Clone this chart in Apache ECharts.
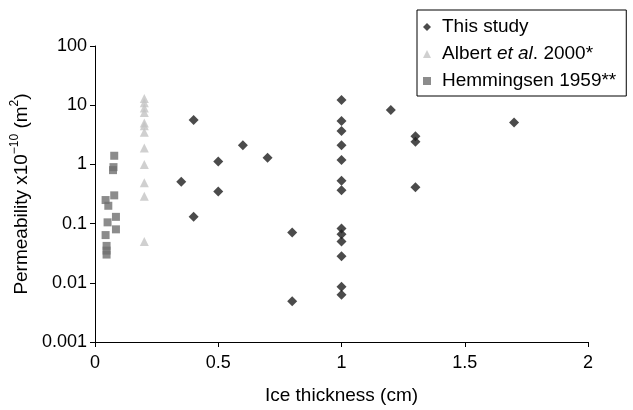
<!DOCTYPE html>
<html>
<head>
<meta charset="utf-8">
<script src="https://cdn.jsdelivr.net/npm/echarts@6/dist/echarts.min.js"></script>
<style>html,body{margin:0;padding:0;background:#fff}#c{width:633px;height:410px}</style>
</head>
<body>
<div id="c"></div>
<script>
// This study
const studyX = [0.35, 0.4, 0.4, 0.5, 0.5, 0.6, 0.7, 0.8, 0.8,
  1, 1, 1, 1, 1, 1, 1, 1, 1, 1, 1, 1, 1,
  1.2, 1.3, 1.3, 1.3, 1.7];
const studyY = [0.51, 5.6, 0.13, 1.12, 0.35, 2.1, 1.3, 0.071, 0.0049,
  12.2, 5.4, 3.66, 2.1, 1.19, 0.53, 0.365, 0.083, 0.066, 0.05, 0.028, 0.0086, 0.0063,
  8.3, 3.0, 2.42, 0.41, 5.1];
// Albert et al. 2000*
const albertX = [0.2, 0.2, 0.2, 0.2, 0.2, 0.2, 0.2, 0.2, 0.2, 0.2, 0.2, 0.2];
const albertY = [13, 11, 9, 7.5, 5, 4.5, 3.5, 1.9, 1.0, 0.49, 0.29, 0.05];
// Hemmingsen 1959**
const hemX = [0.078, 0.075, 0.073, 0.078, 0.043, 0.054, 0.085, 0.051, 0.085, 0.043, 0.047, 0.047, 0.047];
const hemY = [1.4, 0.9, 0.8, 0.3, 0.25, 0.2, 0.13, 0.105, 0.08, 0.064, 0.042, 0.035, 0.03];
const xTicks = [0, 0.5, 1, 1.5, 2];
const yTicks = [0.001, 0.01, 0.1, 1, 10, 100];
const seriesNames = ['This study', 'Albert et al. 2000*', 'Hemmingsen 1959**'];

const zip = (xs, ys) => xs.map((x, i) => [x, ys[i]]);
const FONT = 'Liberation Sans';
const chart = echarts.init(document.getElementById('c'), null, {renderer: 'canvas'});
chart.setOption({
  animation: false,
  textStyle: {fontFamily: FONT},
  grid: {left: 95, right: 45, top: 46, bottom: 59},
  legend: {
    orient: 'vertical', left: 417, top: 10,
    padding: [6, 10, 4, 6], itemGap: 5,
    borderColor: '#000', borderWidth: 1,
    itemWidth: 8, itemHeight: 8,
    textStyle: {fontSize: 19, color: '#000', fontFamily: FONT, lineHeight: 22, padding: [0, 0, 0, 6],
      rich: {n: {fontSize: 19, fontFamily: FONT, color: '#000', lineHeight: 22},
             i: {fontSize: 19, fontFamily: FONT, color: '#000', lineHeight: 22, fontStyle: 'italic'}}},
    formatter: name => name === seriesNames[1] ? '{n|Albert }{i|et al}{n|. 2000*}' : name,
    data: seriesNames
  },
  xAxis: {
    type: 'value', min: 0, max: 2, interval: 0.5,
    name: 'Ice thickness (cm)', nameLocation: 'middle', nameGap: 44,
    nameTextStyle: {fontSize: 19, color: '#000', fontFamily: FONT},
    axisLine: {onZero: false, lineStyle: {color: '#000', width: 1}},
    axisTick: {show: true, inside: false, length: 5, lineStyle: {color: '#000'}},
    axisLabel: {fontSize: 18, color: '#000', margin: 12, fontFamily: FONT,
      formatter: v => xTicks.includes(v) ? String(v) : ''},
    splitLine: {show: false}
  },
  yAxis: {
    type: 'log', min: 0.001, max: 100, logBase: 10,
    name: '{a|Permeability x10}{s|−10}{a| (m}{s|2}{a|)}',
    nameLocation: 'middle', nameGap: 58, nameRotate: 90,
    nameTextStyle: {fontSize: 19, color: '#000', fontFamily: FONT,
      rich: {a: {fontSize: 19, fontFamily: FONT, color: '#000', lineHeight: 22, verticalAlign: 'bottom'},
             s: {fontSize: 12, fontFamily: FONT, color: '#000', lineHeight: 22, verticalAlign: 'top', padding: [0, 0, 6, 0]}}},
    axisLine: {show: true, onZero: false, lineStyle: {color: '#000', width: 1}},
    axisTick: {show: true, inside: false, length: 5, lineStyle: {color: '#000'}},
    minorTick: {show: false},
    axisLabel: {fontSize: 18, color: '#000', margin: 8, fontFamily: FONT,
      formatter: v => {
        const t = yTicks.find(k => Math.abs(Math.log10(k) - Math.log10(v)) < 1e-6);
        return t === undefined ? '' : String(t);
      }},
    splitLine: {show: false}
  },
  series: [
    {name: seriesNames[0], type: 'scatter', symbol: 'diamond', symbolSize: 10,
     itemStyle: {color: '#1e1e1e'}, data: zip(studyX, studyY)},
    {name: seriesNames[1], type: 'scatter', symbol: 'triangle', symbolSize: 9,
     itemStyle: {color: '#c4c4c4'}, data: zip(albertX, albertY)},
    {name: seriesNames[2], type: 'scatter', symbol: 'rect', symbolSize: 8,
     itemStyle: {color: '#6f6f6f'}, data: zip(hemX, hemY)}
  ]
});
</script>
</body>
</html>
